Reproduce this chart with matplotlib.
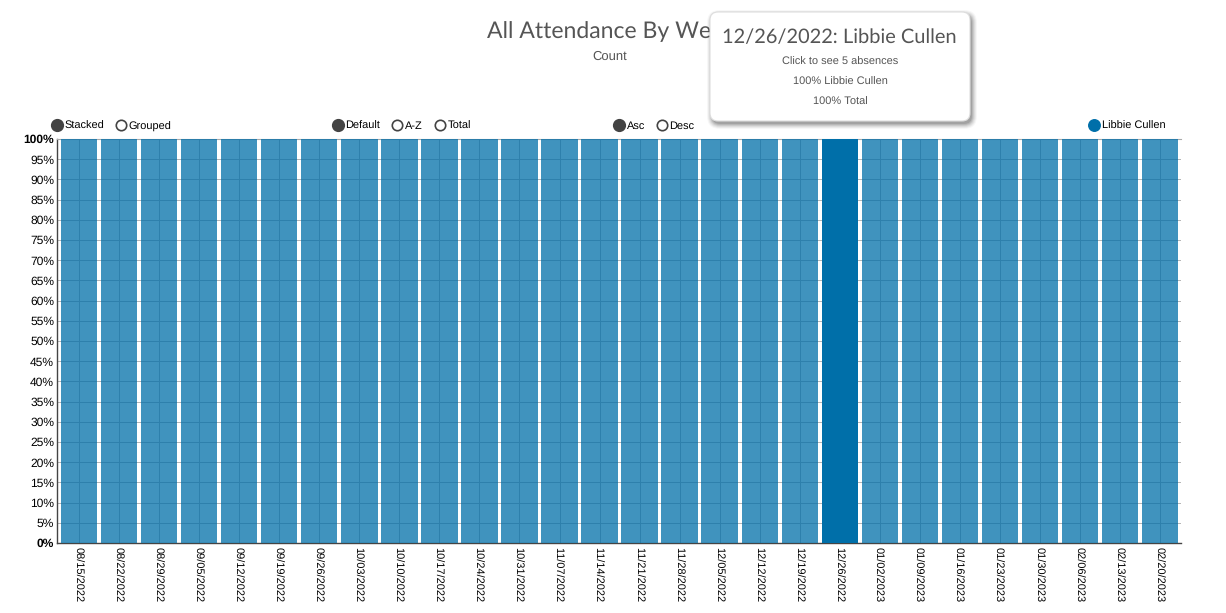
#!/usr/bin/env python3
"""All attendance by week, 100% bars with a tooltip over the hovered week."""

import matplotlib
matplotlib.use('Agg')
import matplotlib.pyplot as plt
import numpy as np
from matplotlib.colors import to_rgba
from matplotlib.patches import FancyBboxPatch
from matplotlib.transforms import ScaledTranslation

plt.rcParams.update({
    'font.family': ['Liberation Sans', 'DejaVu Sans'],
    'font.size': 8,
    'text.hinting': 'no_hinting',
    'text.hinting_factor': 1,
})

# ── Data ────────────────────────────────────────────────────────────
weeks = [
    '08/15/2022', '08/22/2022', '08/29/2022', '09/05/2022', '09/12/2022',
    '09/19/2022', '09/26/2022', '10/03/2022', '10/10/2022', '10/17/2022',
    '10/24/2022', '10/31/2022', '11/07/2022', '11/14/2022', '11/21/2022',
    '11/28/2022', '12/05/2022', '12/12/2022', '12/19/2022', '12/26/2022',
    '01/02/2023', '01/09/2023', '01/16/2023', '01/23/2023', '01/30/2023',
    '02/06/2023', '02/13/2023', '02/20/2023',
]
share = [100, 100, 100, 100, 100, 100, 100, 100, 100, 100, 100, 100, 100, 100,
         100, 100, 100, 100, 100, 100, 100, 100, 100, 100, 100, 100, 100, 100]
y_ticks = [0, 5, 10, 15, 20, 25, 30, 35, 40, 45, 50, 55, 60, 65, 70, 75, 80,
           85, 90, 95, 100]
hovered = '12/26/2022'

W, H = 1226, 613
BLUE = '#006fa9'
DARK = '#444444'
TEXT = '#555555'

fig = plt.figure(figsize=(W / 100, H / 100), dpi=100, facecolor='white')

# axes box in pixels: left 57, right 1181, top 139, bottom 543
ax = fig.add_axes([57 / W, 1 - 543 / H, (1181 - 57) / W, (543 - 139) / H])
x = np.arange(len(weeks))
colors = [to_rgba(BLUE, 1.0 if w == hovered else 0.75) for w in weeks]
ax.bar(x, share, width=0.91, color=colors, linewidth=0, zorder=3)

ax.set_xlim(-0.55, len(weeks) - 0.48)
ax.set_ylim(0, 100)
ax.set_xticks(x)
ax.set_xticklabels(weeks, rotation=-90, fontsize=7.9, color='black')
ax.set_yticks(y_ticks)
ax.set_yticklabels([f'{v}%' for v in y_ticks], fontsize=8.5, color='black')
for lab, v in zip(ax.get_yticklabels(), y_ticks):
    if v in (0, 100):
        lab.set_fontweight('bold')
ax.tick_params(axis='x', length=0, pad=3)
ax.tick_params(axis='y', length=0, pad=2)
ax.grid(True, color='#b4b4b4', linewidth=0.7, zorder=1)
ax.set_axisbelow(True)
ax.spines['top'].set_color('#aaaaaa')
ax.spines['right'].set_visible(False)
ax.spines['left'].set_color(DARK)
ax.spines['bottom'].set_color(DARK)
ax.spines['left'].set_linewidth(1.0)
ax.spines['bottom'].set_linewidth(1.0)

# date labels sit slightly left of the bar centres in the original
nudge = ScaledTranslation(-2 / 100, 0, fig.dpi_scale_trans)
for lab in ax.get_xticklabels():
    lab.set_transform(lab.get_transform() + nudge)

# overlay in pixel coordinates for title, radio legends and tooltip
ov = fig.add_axes([0, 0, 1, 1], zorder=10)
ov.set_xlim(0, W)
ov.set_ylim(H, 0)
ov.axis('off')

ov.text(487, 32, 'All Attendance By Week', ha='left', va='center',
        fontsize=16.6, color=TEXT, family=['Lato', 'DejaVu Sans'])
ov.text(610, 57, 'Count', ha='center', va='center', fontsize=9.5, color=TEXT)

# radio buttons: x of the circle, label, filled or not
radios = [
    (57, 'Stacked', True), (121, 'Grouped', False),
    (338, 'Default', True), (397, 'A-Z', False), (440, 'Total', False),
    (619, 'Asc', True), (662, 'Desc', False),
]
for rx, label, filled in radios:
    ov.plot(rx, 125, 'o', ms=7.5 if not filled else 8.3, mfc=DARK if filled else 'white',
            mec=DARK, mew=1.2, zorder=3)
    ov.text(rx + 7.5, 126.5, label, ha='left', va='center', fontsize=8, color='black')
ov.plot(1094, 125, 'o', ms=8.3, mfc=BLUE, mec=BLUE, mew=1)
ov.text(1101.5, 126.5, 'Libbie Cullen', ha='left', va='center', fontsize=7.8, color='black')

# tooltip, soft shadow built from a few stacked offsets
tx0, ty0, tx1, ty1 = 710, 12, 970, 121
for grow, a in [(5, 0.03), (4, 0.05), (3, 0.06), (2, 0.08), (1, 0.09), (0, 0.11)]:
    ov.add_patch(FancyBboxPatch((tx0 + 2 - grow, ty0 + 3 - grow),
                                tx1 - tx0 + 2 * grow, ty1 - ty0 + 2 * grow,
                                boxstyle=f'round,pad=0,rounding_size={8 + grow}',
                                fc='black', ec='none', alpha=a, zorder=4))
ov.add_patch(FancyBboxPatch((tx0, ty0), tx1 - tx0, ty1 - ty0,
                            boxstyle='round,pad=0,rounding_size=8',
                            fc='white', ec='#dddddd', lw=0.8, zorder=5))
ov.text(839, 37.5, '12/26/2022: Libbie Cullen', ha='center', va='center', fontsize=14.5,
        color=TEXT, family=['Lato', 'DejaVu Sans'], zorder=6)
ov.text(840, 62.5, 'Click to see 5 absences', ha='center', va='center', fontsize=8,
        color=TEXT, zorder=6)
ov.text(840, 82.5, '100% Libbie Cullen', ha='center', va='center', fontsize=8,
        color=TEXT, zorder=6)
ov.text(840, 102.5, '100% Total', ha='center', va='center', fontsize=8,
        color=TEXT, zorder=6)

plt.savefig('out.png', dpi=100, facecolor='white')
